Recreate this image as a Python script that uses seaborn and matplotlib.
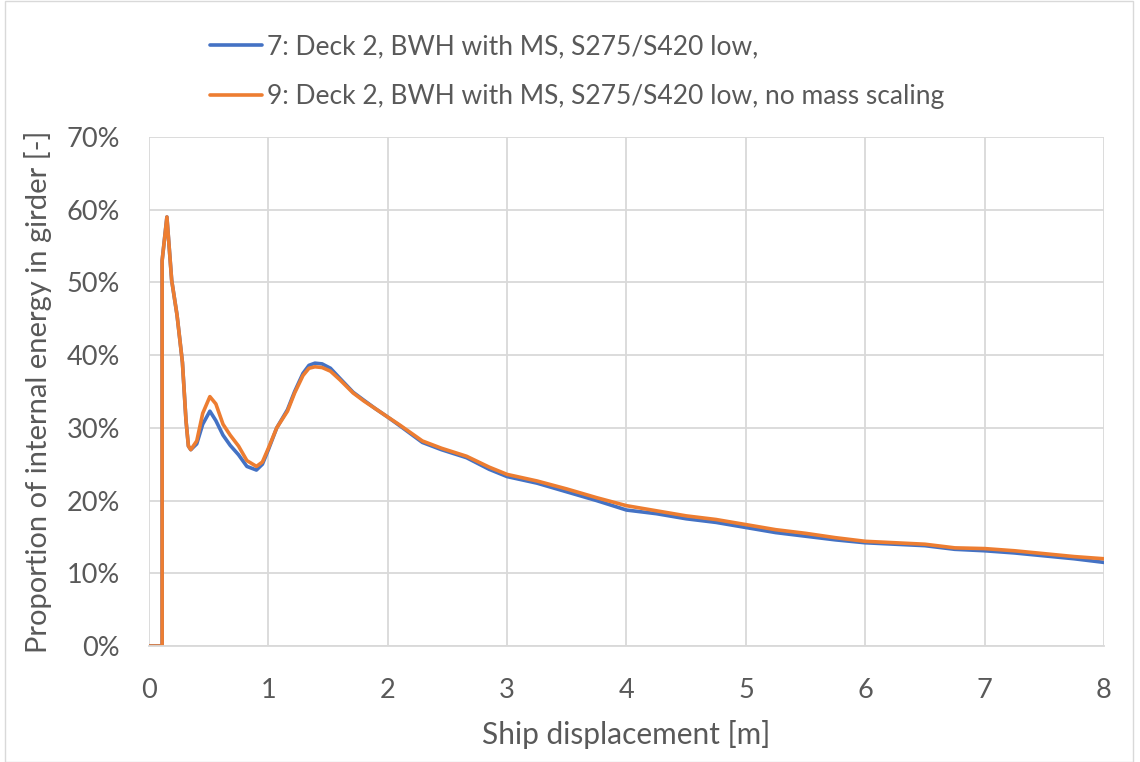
import numpy as np
import pandas as pd
import matplotlib
matplotlib.use("Agg")
import matplotlib.pyplot as plt
import seaborn as sns
from matplotlib.ticker import PercentFormatter

disp = [0.0, 0.11, 0.11, 0.15, 0.19, 0.235, 0.28, 0.31, 0.33, 0.35, 0.40, 0.45,
        0.51, 0.56, 0.62, 0.68, 0.75, 0.82, 0.90, 0.95, 1.0, 1.07, 1.16, 1.22,
        1.29, 1.34, 1.39, 1.45, 1.52, 1.6, 1.71, 1.8, 1.9, 1.99, 2.1, 2.29,
        2.45, 2.66, 2.85, 3.0, 3.25, 3.5, 3.75, 4.0, 4.25, 4.5, 4.75, 5.0,
        5.25, 5.5, 5.75, 6.0, 6.25, 6.5, 6.75, 7.0, 7.25, 7.5, 7.75, 8.0]

# proportion of internal energy in girder [%]
energy_7 = [0, 0, 53, 59, 50.3, 45.5, 39, 31, 27.5, 27, 27.8, 30.5,
            32.3, 31, 29, 27.6, 26.3, 24.7, 24.2, 25, 27, 30, 32.5, 35,
            37.5, 38.6, 38.9, 38.8, 38.2, 36.8, 34.9, 33.8, 32.6, 31.6, 30.3, 28,
            27, 25.9, 24.3, 23.3, 22.4, 21.2, 20, 18.7, 18.2, 17.5, 17, 16.3,
            15.6, 15.1, 14.6, 14.2, 14, 13.8, 13.3, 13.1, 12.8, 12.4, 12, 11.5]
energy_9 = [0, 0, 53, 59, 50.3, 45.5, 39, 31, 27.5, 27, 28.2, 32,
            34.3, 33.3, 30.5, 29, 27.5, 25.5, 24.7, 25.3, 27.2, 30, 32.3, 34.8,
            37.2, 38.2, 38.4, 38.3, 37.8, 36.6, 34.8, 33.7, 32.6, 31.6, 30.4, 28.2,
            27.2, 26.1, 24.6, 23.6, 22.7, 21.6, 20.4, 19.3, 18.6, 17.9, 17.4, 16.7,
            16.0, 15.5, 14.9, 14.4, 14.2, 14.0, 13.5, 13.4, 13.1, 12.7, 12.3, 12.0]

labels = ["7: Deck 2, BWH with MS, S275/S420 low,",
          "9: Deck 2, BWH with MS, S275/S420 low, no mass scaling"]
colors = ["#4472C4", "#ED7D31"]

df = pd.concat([
    pd.DataFrame({"x": disp, "y": np.array(energy_7) / 100, "case": labels[0]}),
    pd.DataFrame({"x": disp, "y": np.array(energy_9) / 100, "case": labels[1]}),
])

sns.set_theme(style="white")
plt.rcParams["font.family"] = ["Lato", "DejaVu Sans"]
text_col = "#595959"

fig = plt.figure(figsize=(11.4, 7.62), dpi=100)
ax = fig.add_axes([0.1307, 0.1522, 0.8377, 0.668])

sns.lineplot(data=df, x="x", y="y", hue="case", palette=colors, sort=False,
             estimator=None, units="case", linewidth=2.6, ax=ax, legend=False)

ax.set_xlim(0, 8)
ax.set_ylim(0, 0.7)
ax.set_xticks(range(0, 9))
ax.set_yticks(np.arange(0, 0.71, 0.1))
ax.yaxis.set_major_formatter(PercentFormatter(1.0, decimals=0))
ax.grid(True, color="#d9d9d9", linewidth=1.3)
for s in ["top", "right", "left"]:
    ax.spines[s].set_visible(False)
ax.spines["bottom"].set_color("#d9d9d9")
ax.spines["bottom"].set_linewidth(1.3)
ax.tick_params(axis="both", labelsize=19.5, colors=text_col, length=0)
ax.tick_params(axis="x", pad=23)
ax.tick_params(axis="y", pad=21)
ax.set_xlabel("Ship displacement [m]", fontsize=21.5, color=text_col, labelpad=12)
ax.set_ylabel("Proportion of internal energy in girder [-]", fontsize=21, color=text_col, labelpad=10)

handles = [plt.Line2D([0], [0], color=c, linewidth=2.6) for c in colors]
fig.legend(handles, labels, loc="upper left", bbox_to_anchor=(0.1635, 0.986),
           frameon=False, fontsize=19, labelcolor=text_col, handlelength=1.95,
           handletextpad=0.22, labelspacing=0.95)

fig.patches.append(plt.Rectangle((0.004, 0.0), 0.99, 0.999, transform=fig.transFigure,
                                 fill=False, edgecolor="#d9d9d9", linewidth=1))

fig.savefig("out.png", dpi=100)
